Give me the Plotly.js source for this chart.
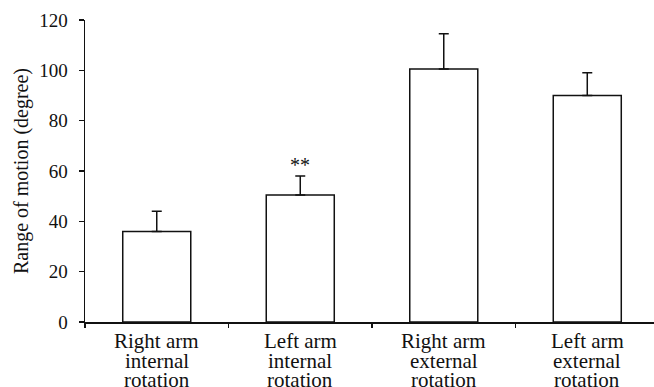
<!DOCTYPE html>
<html>
<head>
<meta charset="utf-8">
<script src="https://cdn.plot.ly/plotly-3.0.1.min.js"></script>
<style>html,body{margin:0;padding:0;background:#fff;}#chart{width:654px;height:387px;}</style>
</head>
<body>
<div id="chart"></div>
<script>
// Data
const categories = ["Right arm internal rotation", "Left arm internal rotation", "Right arm external rotation", "Left arm external rotation"];
const labelLine1 = ["Right arm", "Left arm", "Right arm", "Left arm"];
const labelLine2 = ["internal", "internal", "external", "external"];
const labelLine3 = ["rotation", "rotation", "rotation", "rotation"];
const meanValues = [36, 50.5, 100.5, 90];
const errorValues = [8, 7.5, 14, 9];
const significance = ["", "**", "", ""];
const yTickValues = [0, 20, 40, 60, 80, 100, 120];

const serif = "Liberation Serif";

const trace = {
  type: "bar",
  x: categories,
  y: meanValues,
  width: 0.474,
  marker: { color: "#ffffff", line: { color: "#111111", width: 1.5 } },
  error_y: {
    type: "data",
    symmetric: false,
    array: errorValues,
    arrayminus: errorValues.map(() => 0),
    color: "#111111",
    thickness: 1.5,
    width: 5
  },
  hoverinfo: "none"
};

const annotations = [];
const lines = [labelLine1, labelLine2, labelLine3];
categories.forEach((c, i) => {
  lines.forEach((ln, j) => {
    annotations.push({
      x: c, y: 0, xref: "x", yref: "y",
      text: ln[i], showarrow: false,
      xanchor: "center", yanchor: "top",
      borderpad: 0,
      yshift: -6 - 19.5 * j,
      font: { family: serif, size: 21, color: "#111" }
    });
  });
  if (significance[i]) {
    annotations.push({
      x: c, y: meanValues[i] + errorValues[i], xref: "x", yref: "y",
      text: significance[i], showarrow: false,
      xanchor: "center", yanchor: "bottom", yshift: -2,
      font: { family: serif, size: 20, color: "#111" }
    });
  }
});

const layout = {
  width: 654, height: 387,
  margin: { l: 85, r: 0, t: 20, b: 65 },
  paper_bgcolor: "#fff", plot_bgcolor: "#fff",
  showlegend: false,
  xaxis: {
    type: "category",
    range: [-0.5, 3.465],
    showgrid: false, zeroline: false,
    showline: true, linecolor: "#111", linewidth: 1.5,
    ticks: "outside", tickson: "boundaries", ticklen: 4, tickwidth: 1.2, tickcolor: "#111",
    showticklabels: false,
    fixedrange: true
  },
  yaxis: {
    range: [0, 120],
    tickvals: yTickValues,
    showgrid: false, zeroline: false,
    showline: true, linecolor: "#111", linewidth: 1.5,
    ticks: "outside", ticklen: 5, tickwidth: 1.2, tickcolor: "#111",
    ticklabelstandoff: 7,
    tickfont: { family: serif, size: 19, color: "#111" },
    title: { text: "Range of motion (degree)", font: { family: serif, size: 20, color: "#111" }, standoff: 5 },
    automargin: false,
    fixedrange: true
  },
  annotations: annotations
};

Plotly.newPlot("chart", [trace], layout, { staticPlot: true, displayModeBar: false });
</script>
</body>
</html>
